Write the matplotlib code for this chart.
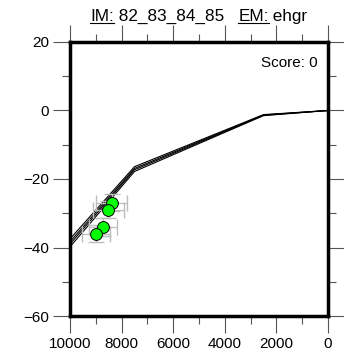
import matplotlib.pyplot as plt
from matplotlib.ticker import MultipleLocator
from matplotlib.lines import Line2D

plt.rcParams["font.family"] = ["Liberation Sans", "DejaVu Sans"]

# model curves (distance vs value)
line_x = [10000, 7500, 2500, 0]
line_ys = [
    [-37.5, -16.4, -1.2, 0],
    [-38.3, -16.9, -1.3, 0],
    [-39.0, -17.3, -1.4, 0],
    [-39.8, -17.8, -1.5, 0],
]

# observations
obs_x = [8380, 8520, 8710, 9000]
obs_y = [-26.9, -29.0, -34.0, -36.0]
obs_xerr = [600, 600, 550, 550]
obs_yerr = [2.5, 2.5, 2.5, 2.5]

title_parts = [("IM:", True), (" 82_83_84_85   ", False), ("EM:", True), (" ehgr", False)]

fig = plt.figure(figsize=(3.44, 3.58), dpi=100)
ax = fig.add_axes([0.2035, 0.1173, 0.75, 0.7654])

for ys in line_ys:
    ax.plot(line_x, ys, color="black", lw=0.8, zorder=2)

ax.errorbar(obs_x, obs_y, xerr=obs_xerr, yerr=obs_yerr, fmt="none",
            ecolor="#bdbdbd", elinewidth=0.9, capsize=6, zorder=3)
ax.plot(obs_x, obs_y, "o", ms=8.5, mfc="#00ff00", mec="black", mew=0.7, zorder=4)

ax.set_xlim(10000, 0)
ax.set_ylim(-60, 20)
ax.xaxis.set_major_locator(MultipleLocator(2000))
ax.xaxis.set_minor_locator(MultipleLocator(1000))
ax.yaxis.set_minor_locator(MultipleLocator(10))
ax.tick_params(which="both", direction="out", top=True, right=True,
               width=0.8, color="#555555", labelsize=11)
ax.tick_params(which="major", length=12, pad=3)
ax.tick_params(which="minor", length=6)
ax.set_yticks([20, 0, -20, -40, -60])
ax.set_yticklabels(["20", "0", "\u221220", "\u221240", "\u221260"])
for s in ax.spines.values():
    s.set_linewidth(2.5)

ax.text(0.96, 0.95, "Score: 0", transform=ax.transAxes, ha="right", va="top",
        fontsize=11)

# title with underlined labels
fig.canvas.draw()
renderer = fig.canvas.get_renderer()
texts = []
for s, _ in title_parts:
    texts.append(fig.text(0, 0.975, s, ha="left", va="top", fontsize=12.3))
widths = [t.get_window_extent(renderer).width for t in texts]
W = fig.bbox.width
x0 = 90.0
for t, (s, ul), w in zip(texts, title_parts, widths):
    t.set_x(x0 / W)
    if ul:
        bb = t.get_window_extent(renderer)
        yl = (bb.y0 + 1) / fig.bbox.height
        fig.add_artist(Line2D([x0 / W, (x0 + w) / W], [yl, yl],
                              transform=fig.transFigure, color="black", lw=0.8))
    x0 += w

fig.savefig("out.png", dpi=100)
